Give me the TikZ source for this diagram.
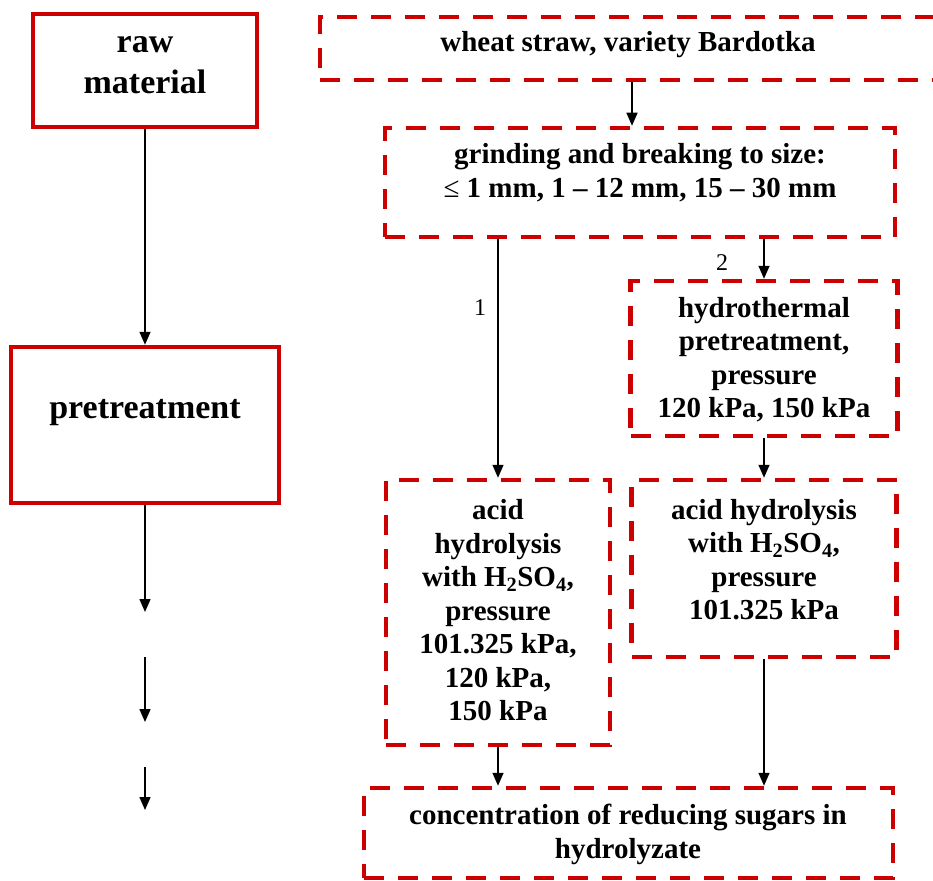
\documentclass[tikz,border=0pt]{standalone}
\usepackage{fontspec}
\setmainfont{Liberation Serif}
\usetikzlibrary{arrows.meta}
\definecolor{boxred}{RGB}{204,0,0}
\begin{document}
\begin{tikzpicture}[x=1pt,y=-1pt,
  solidbox/.style={draw=boxred,line width=4.5pt,rectangle,inner sep=0pt},
  dashbox/.style={draw=boxred,line width=4.5pt,rectangle,inner sep=0pt,dash pattern=on 20pt off 14pt},
  bigtext/.style={font=\bfseries\fontsize{34}{41}\selectfont,align=center,inner sep=0pt},
  boxtext/.style={font=\bfseries\fontsize{29}{33.5}\selectfont,align=center,inner sep=0pt},
  numlabel/.style={font=\fontsize{24}{28}\selectfont,inner sep=0pt},
  arr/.style={draw=black,line width=1.5pt,-{Triangle[width=11pt,length=13pt]}}]
\useasboundingbox (0,0) rectangle (933,880);
% left column
\node[solidbox,minimum width=224pt,minimum height=113pt] (raw) at (145,70.5) {};
\node[bigtext] (rawt) at (145,65.5) {raw\\material};
\node[solidbox,minimum width=268pt,minimum height=156pt] (pre) at (145,425) {};
\node[bigtext] (pret) at (145,413) {pretreatment};
\coordinate (l1) at (145,612);
\coordinate (l2a) at (145,657);
\coordinate (l2b) at (145,722);
\coordinate (l3a) at (145,767);
\coordinate (l3b) at (145,810);
\draw[arr] (raw.south) -- (pre.north);
\draw[arr] (pre.south) -- (l1);
\draw[arr] (l2a) -- (l2b);
\draw[arr] (l3a) -- (l3b);
% right column
\node[dashbox,minimum width=616pt,minimum height=63pt] (wheat) at (628,48.5) {};
\node[boxtext] (wheatt) at (628,45) {wheat straw, variety Bardotka};
\node[dashbox,minimum width=510pt,minimum height=109pt] (grind) at (640,182.5) {};
\node[boxtext] (grindt) at (640,172.5) {grinding and breaking to size:\\{\mdseries ≤} 1 mm, 1 – 12 mm, 15 – 30 mm};
\node[dashbox,minimum width=267pt,minimum height=155pt] (hydro) at (764,358.5) {};
\node[boxtext] (hydrot) at (764,359.5) {hydrothermal\\pretreatment,\\pressure\\120 kPa, 150 kPa};
\node[dashbox,minimum width=224pt,minimum height=265pt] (acidL) at (498,612.5) {};
\node[boxtext] (acidLt) at (498,610.5) {acid\\hydrolysis\\with H\textsubscript{2}SO\textsubscript{4},\\pressure\\101.325 kPa,\\120 kPa,\\150 kPa};
\node[dashbox,minimum width=265pt,minimum height=177pt] (acidR) at (764,568.5) {};
\node[boxtext] (acidRt) at (764,559.5) {acid hydrolysis\\with H\textsubscript{2}SO\textsubscript{4},\\pressure\\101.325 kPa};
\node[dashbox,minimum width=529pt,minimum height=90pt] (conc) at (628.5,833) {};
\node[boxtext] (conct) at (628,834.5) {concentration of reducing sugars in\\hydrolyzate};
\coordinate (c1) at (632,0);
\draw[arr] (wheat.south -| c1) -- (grind.north -| c1);
\draw[arr] (grind.south -| acidL.north) -- (acidL.north);
\draw[arr] (grind.south -| hydro.north) -- (hydro.north);
\draw[arr] (hydro.south) -- (acidR.north -| hydro.south);
\draw[arr] (acidL.south) -- (conc.north -| acidL.south);
\draw[arr] (acidR.south) -- (conc.north -| acidR.south);
\node[numlabel] (n1) at (480,308) {1};
\node[numlabel] (n2) at (722,263) {2};
\end{tikzpicture}
\end{document}
